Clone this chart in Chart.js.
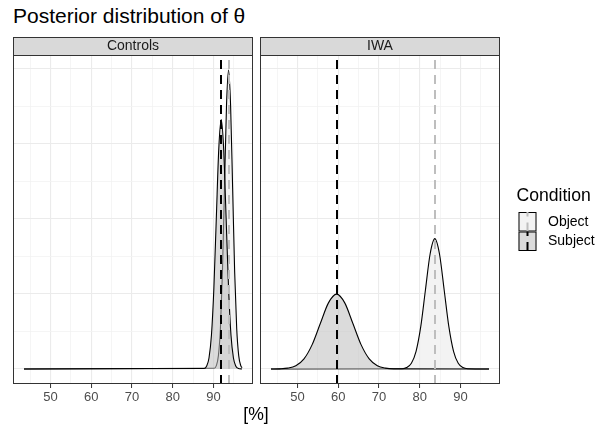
<!DOCTYPE html>
<html>
<head>
<meta charset="utf-8">
<script src="https://cdn.jsdelivr.net/npm/chart.js@4.4.1/dist/chart.umd.min.js"></script>
<style>
  body { margin: 0; width: 610px; height: 430px; overflow: hidden; position: relative; background: #fff;
         font-family: 'Liberation Sans', Arial, sans-serif; }
  #title { position: absolute; left: 13px; top: 5px; font-size: 21px; line-height: 21px; color: #000; white-space: nowrap; }
  #xtitle { position: absolute; left: 156px; width: 200px; top: 406px; text-align: center;
            font-size: 17.6px; line-height: 17.6px; color: #000; }
  canvas { position: absolute; top: 0; }
</style>
</head>
<body>
<div id="title">Posterior distribution of θ</div>
<canvas id="panel-controls" width="260" height="430" style="left:0"></canvas>
<canvas id="panel-iwa" width="354" height="430" style="left:256px"></canvas>
<div id="xtitle">[%]</div>
<script>
// facets and groups
const panels = ['Controls', 'IWA']
const conditions = ['Object', 'Subject']

// axis breaks
const xBreaks = [50, 60, 70, 80, 90]
const xMinorBreaks = [45, 55, 65, 75, 85, 95]
const yBreaks = [0, 0.1, 0.2, 0.3, 0.4]
const yMinorBreaks = [0.05, 0.15, 0.25, 0.35]

// posterior densities (x in %, y = density)
const controlsObjectX = [43.5, 90.2, 90.7, 91.2, 91.7, 92.2, 92.7, 93.2, 93.7, 94.2, 94.7, 95.2, 95.7, 96.2, 96.7, 97.0]
const controlsObjectY = [0, 0.0009, 0.0044, 0.0175, 0.0539, 0.1292, 0.2414, 0.3512, 0.398, 0.3512, 0.2414, 0.1292, 0.0539, 0.0175, 0.0044, 0.0017]
const controlsSubjectX = [43.5, 87.7, 88.3, 88.9, 89.5, 90.1, 90.7, 91.3, 91.9, 92.5, 93.1, 93.7, 94.3, 94.9, 95.5, 96.1, 97.0]
const controlsSubjectY = [0, 0.0007, 0.0037, 0.0146, 0.0449, 0.1078, 0.2014, 0.293, 0.332, 0.293, 0.2014, 0.1078, 0.0449, 0.0146, 0.0037, 0.0007, 0]
const iwaObjectX = [43.5, 75.65, 76.8, 77.95, 79.1, 80.25, 81.4, 82.55, 83.7, 84.85, 86.0, 87.15, 88.3, 89.45, 90.6, 91.75, 97.0]
const iwaObjectY = [0, 0.0004, 0.0019, 0.0076, 0.0235, 0.0563, 0.1052, 0.1531, 0.1735, 0.1531, 0.1052, 0.0563, 0.0235, 0.0076, 0.0019, 0.0004, 0]
const iwaSubjectX = [43.5, 45.6, 47.6, 49.6, 51.6, 53.6, 55.6, 57.6, 59.6, 61.6, 63.6, 65.6, 67.6, 69.6, 71.6, 73.6, 97.0]
const iwaSubjectY = [0, 0.0002, 0.0011, 0.0044, 0.0135, 0.0324, 0.0605, 0.088, 0.0997, 0.088, 0.0605, 0.0324, 0.0135, 0.0044, 0.0011, 0.0002, 0]

// posterior means (dashed lines), same order as conditions
const controlsMeans = [93.7, 91.9]
const iwaMeans = [83.7, 59.6]

// styles
const fillColors = ['rgba(235,235,235,0.6)', 'rgba(190,190,190,0.55)']
const vlineColors = ['#BEBEBE', '#000000']
const FONT = "'Liberation Sans', Arial, sans-serif"
Chart.defaults.font.family = FONT

const xGrid = xMinorBreaks.concat(xBreaks).sort((a, b) => a - b)
const yGrid = yMinorBreaks.concat(yBreaks).sort((a, b) => a - b)

function isMajorY(v) {
    return yBreaks.some(b => Math.abs(b - v) < 1e-9)
}

function toPoints(xs, ys) {
    return xs.map((x, i) => ({ x: x, y: ys[i] }))
}

// strip, border, mean lines and legend
const panelPlugin = {
    id: 'panel',
    afterDatasetsDraw(chart, args, opts) {
        const { ctx, chartArea: a } = chart
        const x = chart.scales.x
        ctx.save()
        ctx.beginPath()
        ctx.rect(a.left, a.top, a.right - a.left, a.bottom - a.top)
        ctx.clip()
        ctx.lineWidth = 2
        ctx.setLineDash([9, 6])
        opts.means.forEach((m, i) => {
            const px = Math.round(x.getPixelForValue(m))
            ctx.strokeStyle = vlineColors[i]
            ctx.beginPath()
            ctx.moveTo(px, a.bottom)
            ctx.lineTo(px, a.top)
            ctx.stroke()
        })
        ctx.restore()
    },
    afterDraw(chart, args, opts) {
        const { ctx, chartArea: a } = chart
        ctx.save()
        // panel border
        ctx.strokeStyle = '#333333'
        ctx.lineWidth = 1
        ctx.strokeRect(a.left + 0.5, a.top + 0.5, a.right - a.left - 1, a.bottom - a.top - 1)
        // strip
        const stripH = 18
        ctx.fillStyle = '#D9D9D9'
        ctx.fillRect(a.left, a.top - stripH, a.right - a.left, stripH)
        ctx.strokeRect(a.left + 0.5, a.top - stripH + 0.5, a.right - a.left - 1, stripH)
        ctx.fillStyle = '#1A1A1A'
        ctx.font = '14px ' + FONT
        ctx.textAlign = 'center'
        ctx.textBaseline = 'middle'
        ctx.fillText(opts.label, (a.left + a.right) / 2, a.top - stripH / 2 + 0.5)

        // legend
        if (opts.legend) {
            const lx = a.right + 16.5
            ctx.fillStyle = '#000'
            ctx.font = '17.6px ' + FONT
            ctx.textAlign = 'left'
            ctx.textBaseline = 'alphabetic'
            ctx.fillText('Condition', lx, 201)
            conditions.forEach((c, i) => {
                const kx = lx + 2
                const ky = 212 + i * 19.5
                ctx.fillStyle = '#fff'
                ctx.fillRect(kx, ky, 18, 19.5)
                ctx.fillStyle = fillColors[i]
                ctx.fillRect(kx, ky, 18, 19.5)
                ctx.strokeStyle = '#000'
                ctx.lineWidth = 1
                ctx.setLineDash([])
                ctx.strokeRect(kx + 0.5, ky + 0.5, 17, 18.5)
                ctx.strokeStyle = vlineColors[i]
                ctx.lineWidth = 2
                ctx.setLineDash([9, 6])
                ctx.beginPath()
                ctx.moveTo(kx + 9, ky + 19.5)
                ctx.lineTo(kx + 9, ky)
                ctx.stroke()
                ctx.setLineDash([])
                ctx.fillStyle = '#000'
                ctx.font = '14px ' + FONT
                ctx.textBaseline = 'middle'
                ctx.fillText(c, lx + 31.5, ky + 10)
            })
        }
        ctx.restore()
    }
}

function makePanel(canvasId, label, objectPts, subjectPts, means, padding, legend) {
    const ctx = document.getElementById(canvasId).getContext('2d')
    return new Chart(ctx, {
        type: 'line',
        data: {
            datasets: [
                { label: conditions[0], data: objectPts, order: 2, backgroundColor: fillColors[0] },
                { label: conditions[1], data: subjectPts, order: 1, backgroundColor: fillColors[1] }
            ]
        },
        options: {
            responsive: false,
            animation: false,
            devicePixelRatio: 1,
            layout: { padding: padding },
            elements: {
                line: { borderColor: '#000', borderWidth: 1.1, fill: 'origin', cubicInterpolationMode: 'monotone' },
                point: { radius: 0 }
            },
            plugins: {
                legend: { display: false },
                tooltip: { enabled: false },
                panel: { label: label, means: means, legend: legend }
            },
            scales: {
                x: {
                    type: 'linear',
                    min: 40.8,
                    max: 99.7,
                    afterBuildTicks: (s) => { s.ticks = xGrid.map(v => ({ value: v })) },
                    afterFit: (s) => { s.height = 30 },
                    border: { display: false },
                    grid: {
                        color: (c) => c.tick && xBreaks.includes(c.tick.value) ? '#EBEBEB' : '#F3F3F3',
                        lineWidth: (c) => c.tick && xBreaks.includes(c.tick.value) ? 1.1 : 0.8,
                        tickColor: (c) => c.tick && xBreaks.includes(c.tick.value) ? '#333333' : 'rgba(0,0,0,0)',
                        tickLength: 4,
                        tickWidth: 1
                    },
                    ticks: {
                        color: '#4D4D4D',
                        font: { size: 13 },
                        padding: 2,
                        maxRotation: 0,
                        autoSkip: false,
                        callback: (v) => xBreaks.includes(v) ? String(v) : ''
                    }
                },
                y: {
                    type: 'linear',
                    min: -0.02,
                    max: 0.418,
                    afterBuildTicks: (s) => { s.ticks = yGrid.map(v => ({ value: v })) },
                    afterFit: (s) => { s.width = 0 },
                    border: { display: false },
                    ticks: { display: false },
                    grid: {
                        drawTicks: false,
                        color: (c) => c.tick && isMajorY(c.tick.value) ? '#EBEBEB' : '#F3F3F3',
                        lineWidth: (c) => c.tick && isMajorY(c.tick.value) ? 1.1 : 0.8
                    }
                }
            }
        },
        plugins: [panelPlugin]
    })
}

makePanel('panel-controls', panels[0],
    toPoints(controlsObjectX, controlsObjectY), toPoints(controlsSubjectX, controlsSubjectY),
    controlsMeans, { left: 13, right: 7, top: 55, bottom: 16 }, false)

makePanel('panel-iwa', panels[1],
    toPoints(iwaObjectX, iwaObjectY), toPoints(iwaSubjectX, iwaSubjectY),
    iwaMeans, { left: 4, right: 110, top: 55, bottom: 16 }, true)
</script>
</body>
</html>
